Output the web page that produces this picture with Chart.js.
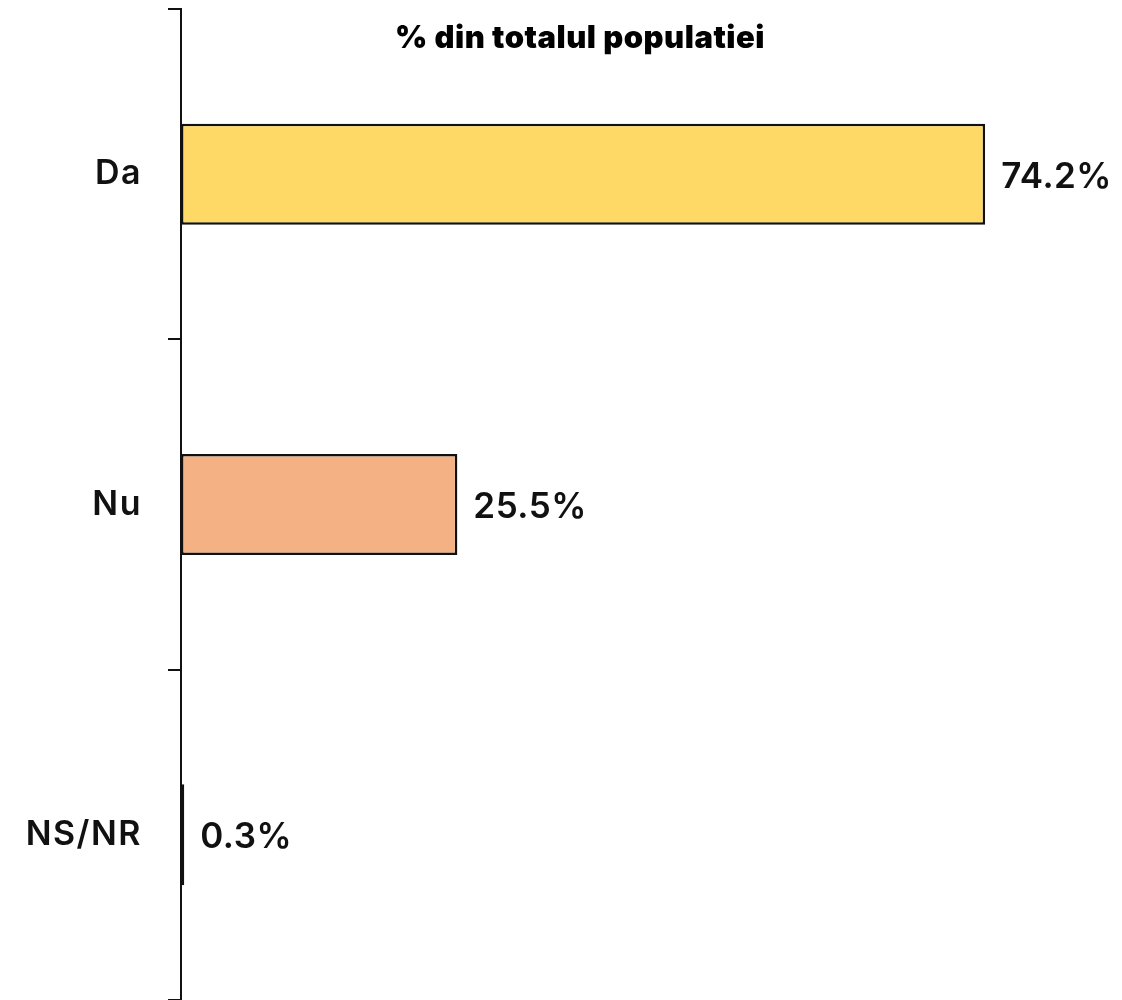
<!DOCTYPE html>
<html>
<head>
<meta charset="utf-8">
<script src="https://cdn.jsdelivr.net/npm/chart.js@4/dist/chart.umd.min.js"></script>
<style>
html,body{margin:0;padding:0;background:#fff;}
#wrap{width:1122px;height:1000px;position:relative;}
</style>
</head>
<body>
<div id="wrap"><canvas id="c" width="1122" height="1000"></canvas></div>
<script>
const categories = ["Da", "Nu", "NS/NR"];
const values = [74.2, 25.5, 0.3];
const valueLabels = ["74.2%", "25.5%", "0.3%"];
const barColors = ["#FFD966", "#F4B183", "#A9A9A9"];
const chartTitle = "% din totalul populatiei";

const spacingPlugin = {
  id: 'spacing',
  beforeDraw(chart) { chart.ctx.letterSpacing = '1.5px'; }
};

const valueLabelPlugin = {
  id: 'valueLabels',
  afterDatasetsDraw(chart) {
    const ctx = chart.ctx;
    const meta = chart.getDatasetMeta(0);
    ctx.save();
    ctx.letterSpacing = '0.5px';
    ctx.fillStyle = '#111';
    ctx.font = '600 35px Inter, "Open Sans", sans-serif';
    ctx.textAlign = 'left';
    ctx.textBaseline = 'middle';
    meta.data.forEach((bar, i) => {
      ctx.fillText(valueLabels[i], bar.x + 16, bar.y + 3);
    });
    ctx.restore();
  }
};

const titlePlugin = {
  id: 'innerTitle',
  afterDraw(chart) {
    const ctx = chart.ctx;
    ctx.save();
    ctx.letterSpacing = '0.5px';
    ctx.fillStyle = '#000';
    ctx.font = '900 31px Inter, "DejaVu Sans", sans-serif';
    ctx.textAlign = 'center';
    ctx.textBaseline = 'middle';
    ctx.fillText(chartTitle, 580, 39);
    ctx.restore();
  }
};

new Chart(document.getElementById('c'), {
  type: 'bar',
  data: {
    labels: categories,
    datasets: [{
      data: values,
      backgroundColor: barColors,
      borderColor: '#111',
      borderWidth: 2.5,
      borderSkipped: false,
      categoryPercentage: 1,
      barPercentage: 0.306
    }]
  },
  options: {
    indexAxis: 'y',
    responsive: false,
    animation: false,
    layout: { padding: { top: 9, right: 74, bottom: 0, left: 0 } },
    plugins: {
      legend: { display: false },
      title: { display: false },
      tooltip: { enabled: false }
    },
    scales: {
      x: {
        display: false,
        min: 0,
        max: 80
      },
      y: {
        afterFit(scale) {
          scale.width = 181;
          scale.paddingTop = 0;
          scale.paddingBottom = 0;
        },
        border: { display: true, color: '#111', width: 2 },
        grid: {
          drawOnChartArea: false,
          drawTicks: true,
          tickLength: 13,
          color: '#111',
          lineWidth: 2
        },
        ticks: {
          color: '#111',
          padding: 26,
          font: { family: 'Inter, "Open Sans", sans-serif', size: 34, weight: '600' }
        }
      }
    }
  },
  plugins: [spacingPlugin, valueLabelPlugin, titlePlugin]
});
</script>
</body>
</html>
